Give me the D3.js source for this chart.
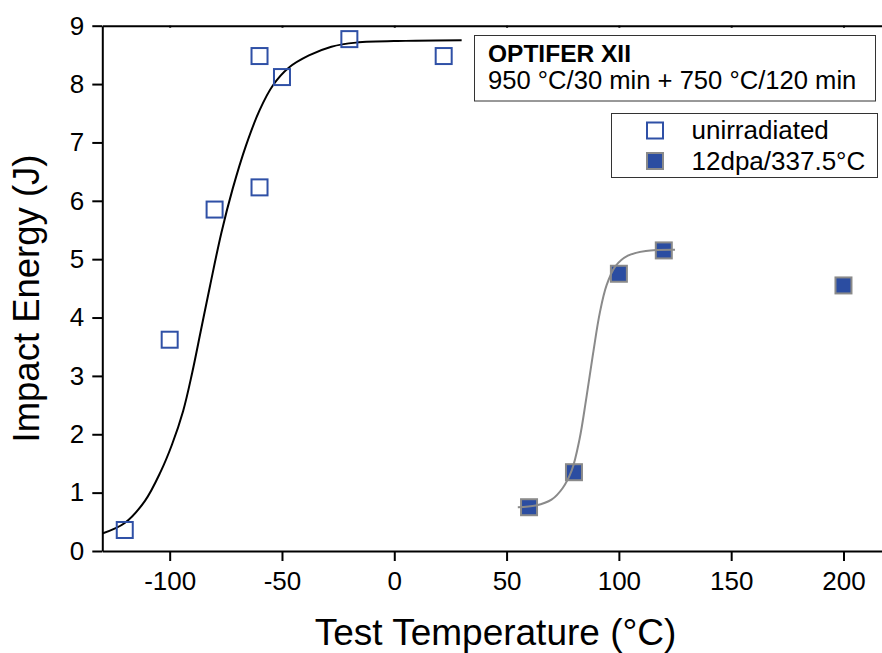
<!DOCTYPE html>
<html><head><meta charset="utf-8">
<script src="https://cdn.jsdelivr.net/npm/d3@7"></script>
<style>body{margin:0;background:#fff} svg{display:block} text{font-family:"Liberation Sans",Arial,sans-serif;fill:#000}</style>
</head><body>
<svg id="c" width="882" height="653"></svg>
<script>
// ---- data ----
const unirrT = [-120, -100, -80, -60, -60, -50, -20, 22];
const unirrE = [0.36, 3.62, 5.85, 8.48, 6.23, 8.12, 8.77, 8.48];
const irrT = [60, 80, 100, 120, 200];
const irrE = [0.75, 1.35, 4.75, 5.15, 4.55];
// fitted transition curves
const fitUnirrT = [-130, -120, -111, -104, -99, -94, -90, -86, -82, -77, -72, -66, -60, -54, -47, -38, -28, -17, 5, 30];
const fitUnirrE = [0.30, 0.48, 0.86, 1.36, 1.82, 2.40, 3.05, 3.80, 4.55, 5.45, 6.20, 6.95, 7.55, 7.98, 8.28, 8.49, 8.64, 8.71, 8.74, 8.75];
const fitIrrT = [55, 63, 70, 75, 79, 82.5, 85.5, 88.5, 91.5, 94.5, 98.5, 104, 112, 125];
const fitIrrE = [0.75, 0.78, 0.88, 1.08, 1.38, 1.92, 2.62, 3.38, 4.08, 4.55, 4.88, 5.06, 5.14, 5.16];
const xTicks = [-100, -50, 0, 50, 100, 150, 200];
const yTicks = [0, 1, 2, 3, 4, 5, 6, 7, 8, 9];
const seriesNames = ["unirradiated", "12dpa/337.5°C"];
const noteTitle = "OPTIFER XII";
const noteText = "950 °C/30 min + 750 °C/120 min";
const xTitle = "Test Temperature (°C)";
const yTitle = "Impact Energy (J)";

// ---- drawing ----
const svg = d3.select("#c");
const x = d3.scaleLinear().domain([-130, 220]).range([102.3, 888.4]);
const y = d3.scaleLinear().domain([0, 9]).range([551, 25.7]);
const BLUE = "#2f50a6", FILL = "#2b4da1", GREY = "#8a8a8a";
const fmt = d => String(d);

function styleAxis(g){
  g.selectAll("path.domain").attr("stroke","#000").attr("stroke-width",2);
  g.selectAll(".tick line").attr("stroke","#000").attr("stroke-width",2);
  g.selectAll(".tick text").attr("font-size",26).attr("font-family",'"Liberation Sans",Arial,sans-serif').attr("fill","#000");
}

const gx = svg.append("g").attr("transform",`translate(0,${y(0)})`)
  .call(d3.axisBottom(x).tickValues(xTicks).tickFormat(fmt).tickSizeInner(10).tickSizeOuter(0).tickPadding(11));
styleAxis(gx);
const gt = svg.append("g").attr("transform",`translate(0,${y(9)})`)
  .call(d3.axisTop(x).tickValues(xTicks).tickSizeInner(-2).tickSizeOuter(0).tickFormat(""));
styleAxis(gt);
const gy = svg.append("g").attr("transform",`translate(${x(-130)},0)`)
  .call(d3.axisLeft(y).tickValues(yTicks).tickFormat(fmt).tickSizeInner(10).tickSizeOuter(0).tickPadding(8));
styleAxis(gy);

// axis titles
svg.append("text").attr("x",495.5).attr("y",645).attr("text-anchor","middle")
  .attr("font-size",37).text(xTitle);
svg.append("text").attr("transform","translate(39,298.5) rotate(-90)").attr("text-anchor","middle")
  .attr("font-size",36.5).text(yTitle);

const line = d3.line().x(d=>x(d[0])).y(d=>y(d[1])).curve(d3.curveCatmullRom.alpha(0.5));
const SZ = 16;

// unirradiated fit + points
svg.append("path").datum(fitUnirrT.map((t,i)=>[t,fitUnirrE[i]]))
  .attr("d",line).attr("fill","none").attr("stroke","#000").attr("stroke-width",2);
svg.append("g").selectAll("rect").data(unirrT.map((t,i)=>[t,unirrE[i]])).join("rect")
  .attr("x",d=>x(d[0])-SZ/2).attr("y",d=>y(d[1])-SZ/2).attr("width",SZ).attr("height",SZ)
  .attr("fill","none").attr("stroke",BLUE).attr("stroke-width",2);

// irradiated points + fit
svg.append("g").selectAll("rect").data(irrT.map((t,i)=>[t,irrE[i]])).join("rect")
  .attr("x",d=>x(d[0])-SZ/2).attr("y",d=>y(d[1])-SZ/2).attr("width",SZ).attr("height",SZ)
  .attr("fill",FILL).attr("stroke",GREY).attr("stroke-width",2);
svg.append("path").datum(fitIrrT.map((t,i)=>[t,fitIrrE[i]]))
  .attr("d",line).attr("fill","none").attr("stroke",GREY).attr("stroke-width",2);

// note box
svg.append("rect").attr("x",474.5).attr("y",35.5).attr("width",401).attr("height",65.5)
  .attr("fill","#fff").attr("stroke","#333").attr("stroke-width",1);
svg.append("text").attr("x",488).attr("y",61.5).attr("font-size",24.5).attr("font-weight","bold").text(noteTitle);
svg.append("text").attr("x",488).attr("y",88.5).attr("font-size",25.6).text(noteText);

// legend box
svg.append("rect").attr("x",611.5).attr("y",113.5).attr("width",266).attr("height",64)
  .attr("fill","#fff").attr("stroke","#333").attr("stroke-width",1);
const leg = svg.append("g");
const legY = [130.5, 161];
leg.selectAll("rect").data(seriesNames).join("rect")
  .attr("x",655-SZ/2).attr("y",(d,i)=>legY[i]-SZ/2).attr("width",SZ).attr("height",SZ)
  .attr("fill",(d,i)=>i===0?"#fff":FILL).attr("stroke",(d,i)=>i===0?BLUE:GREY).attr("stroke-width",2);
leg.selectAll("text").data(seriesNames).join("text")
  .attr("x",691.5).attr("y",(d,i)=>legY[i]+8.5).attr("font-size",26).text(d=>d);
</script>
</body></html>
